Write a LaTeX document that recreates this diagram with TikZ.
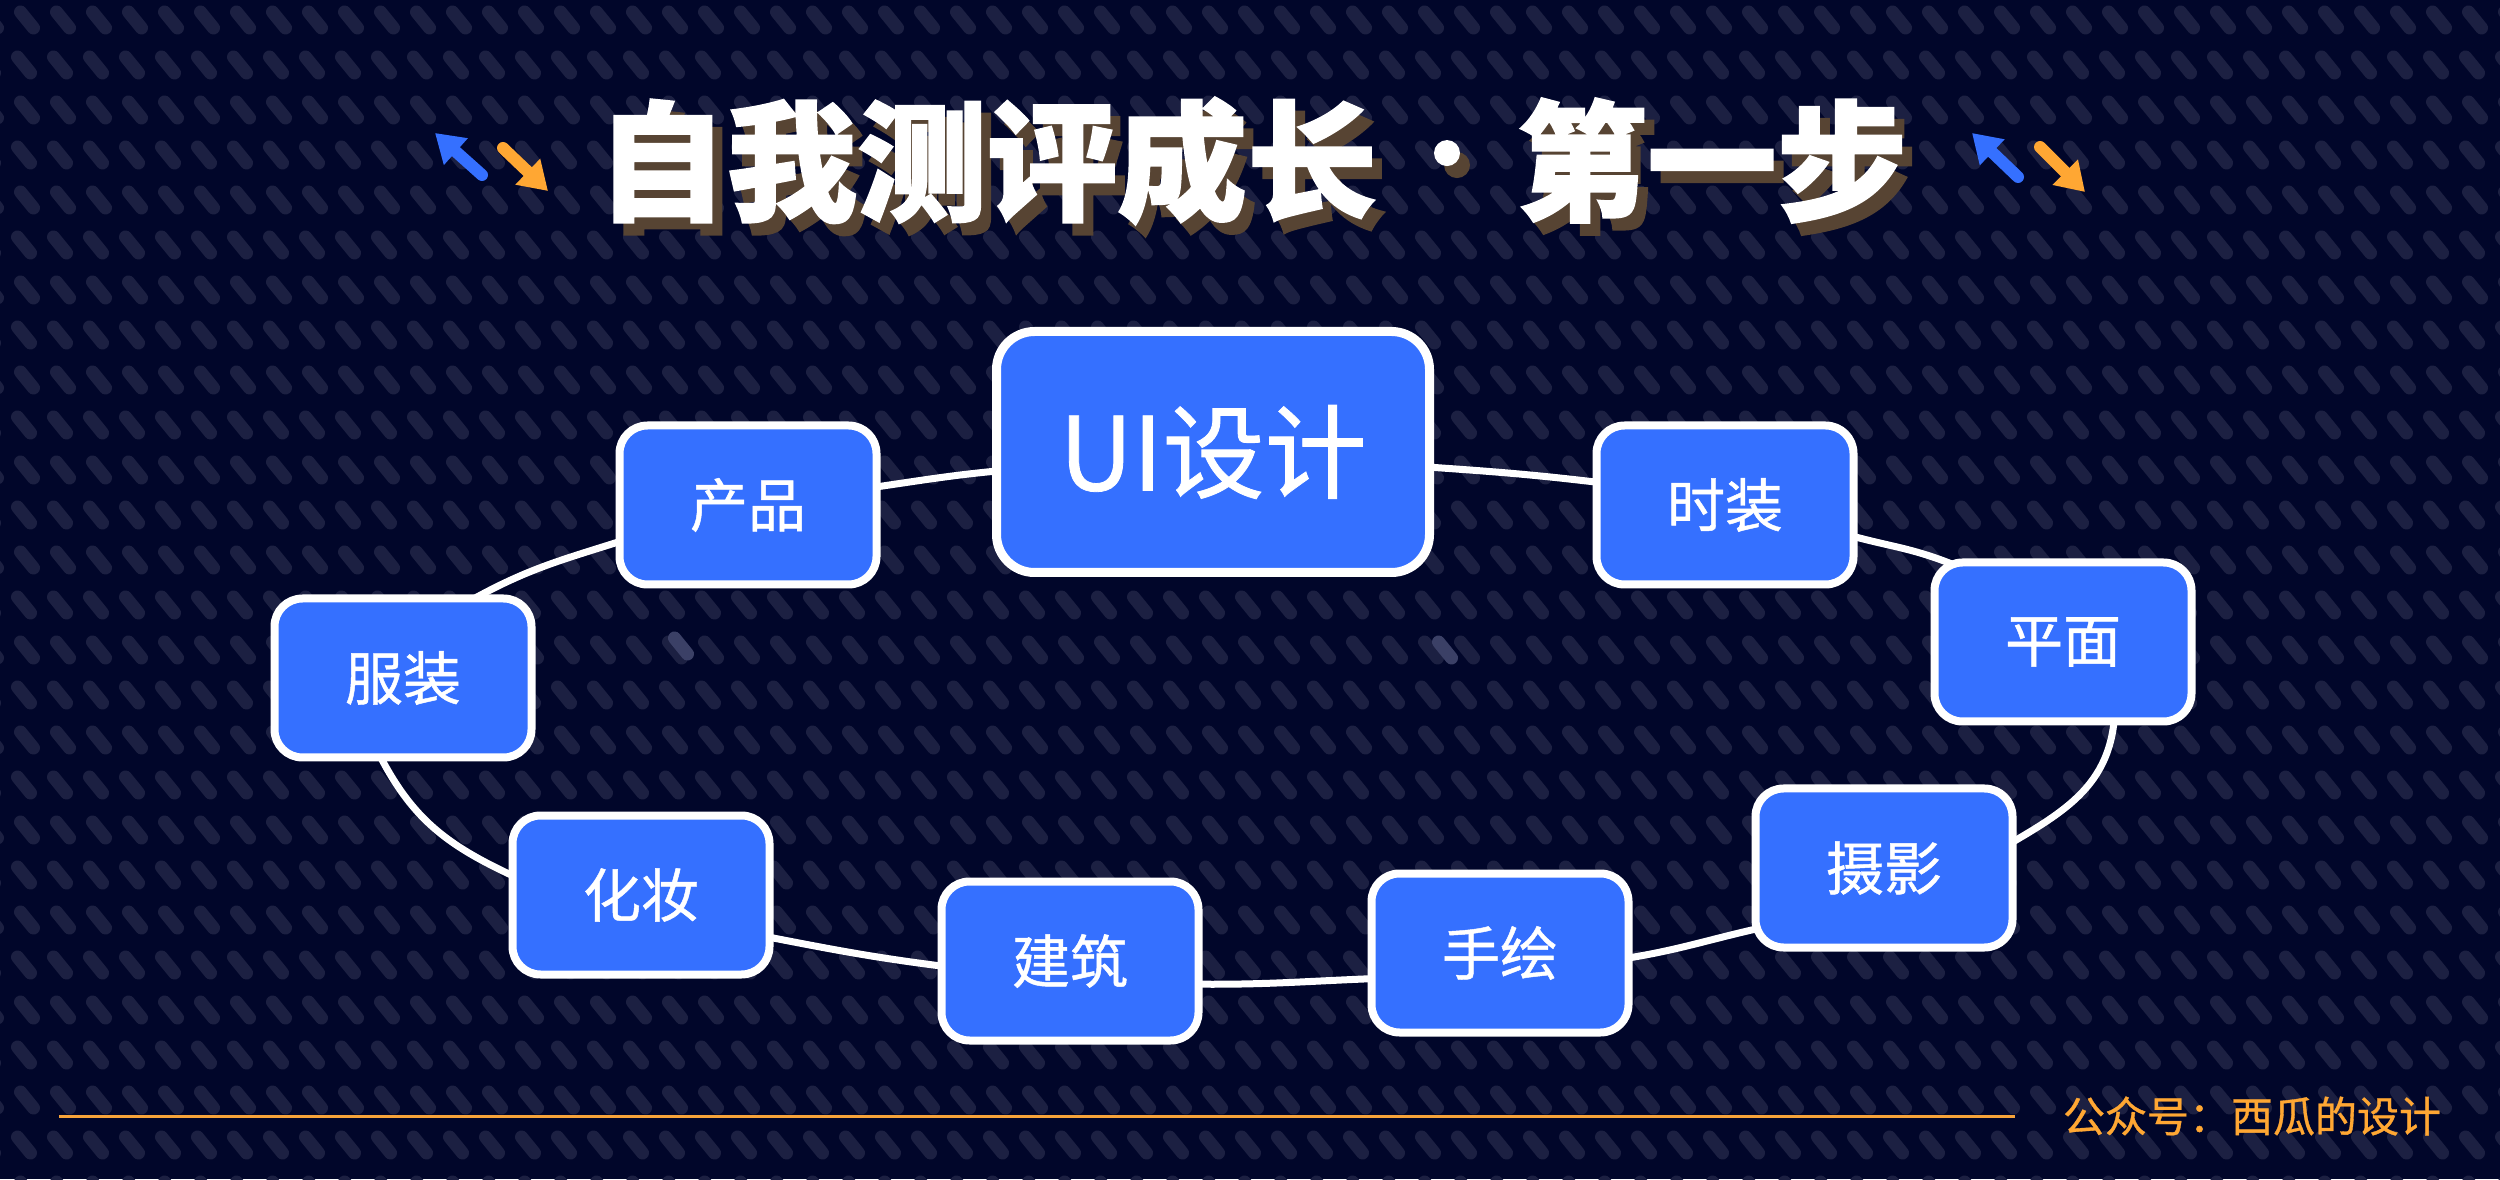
\documentclass[tikz,border=0pt]{standalone}
\usepackage{fontspec}
\usetikzlibrary{arrows.meta}
\newfontfamily\cjk{Noto Sans CJK SC}
\newfontfamily\cjkmed[FakeBold=0.8]{Noto Sans CJK SC}
\newfontfamily\cjktitle[FakeBold=1.5]{Noto Sans CJK SC}
\definecolor{bgcol}{HTML}{01062A}
\definecolor{dashcol}{HTML}{1C2042}
\definecolor{dashlight}{HTML}{3B4066}
\definecolor{nodeblue}{HTML}{3570FF}
\definecolor{arrowblue}{HTML}{3570FF}
\definecolor{arroworange}{HTML}{FFA733}
\definecolor{footorange}{HTML}{FFA733}
\definecolor{lineorange}{HTML}{F6A33A}
\definecolor{shadowcol}{HTML}{574433}
\pgfdeclarelayer{bg}
\pgfdeclarelayer{edges}
\pgfsetlayers{bg,edges,main}
\newcommand\titledot{\makebox[140pt]{\fontsize{88}{88}\selectfont\raisebox{24pt}{·}}}
\tikzset{
  box/.style={draw=white, line width=8pt, fill=nodeblue, rounded corners=28pt,
    minimum width=257pt, minimum height=159pt, inner sep=0pt, text=white,
    font=\cjkmed\fontsize{58}{58}\selectfont},
  bigbox/.style={box, line width=9pt, rounded corners=38pt,
    minimum width=433pt, minimum height=241pt,
    font=\cjkmed\fontsize{102}{102}\selectfont},
  link/.style={draw=white, line width=7pt, shorten <=-25pt, shorten >=-25pt},
  titletext/.style={inner sep=0pt, font=\cjktitle\bfseries\fontsize{130}{130}\selectfont},
  deco/.style={line width=12pt, line cap=round, -{Triangle[length=28pt,width=34pt]}},
}
\begin{document}
\begin{tikzpicture}[x=1pt,y=1pt]
\useasboundingbox (0,0) rectangle (2500,1179);
\begin{pgfonlayer}{bg}
\fill[bgcol] (0,0) rectangle (2500,1179);
\draw[dashcol, line width=13pt, line cap=round]
  \foreach \k in {0,...,26} { \foreach \j in {-1,...,70} {
    ({27+36*\j-3*mod(\k,2)-6.5}, {1179-20-45*\k+8}) -- ++(13,-16) } };
\draw[dashlight, line width=13pt, line cap=round]
  (674.5,541) -- ++(13,-16)
  (1438.5,537) -- ++(13,-16);
\end{pgfonlayer}

% title
\node[titletext, text=shadowcol] (titleshadow) at (1262,1006) {自我测评成长\titledot 第一步};
\node[titletext, text=white] (title) at (1252,1018) {自我测评成长\titledot 第一步};

% decorative arrows
\coordinate (lbt) at (482,1004); \coordinate (lbh) at (435,1046);
\coordinate (lot) at (503,1031); \coordinate (loh) at (548,988);
\coordinate (rbt) at (2018,1002); \coordinate (rbh) at (1972,1046);
\coordinate (rot) at (2040,1032); \coordinate (roh) at (2085,987);
\draw[deco, arrowblue] (lbt) -- (lbh);
\draw[deco, arroworange] (lot) -- (loh);
\draw[deco, arrowblue] (rbt) -- (rbh);
\draw[deco, arroworange] (rot) -- (roh);

% nodes
\node[bigbox] (ui) at (1213,727) {UI设计};
\node[box] (chanpin) at (748,674) {产品};
\node[box] (shizhuang) at (1725,674) {时装};
\node[box] (pingmian) at (2063,537) {平面};
\node[box] (fuzhuang) at (403,501) {服装};
\node[box] (huazhuang) at (641,284) {化妆};
\node[box] (jianzhu) at (1070,218) {建筑};
\node[box] (shouhui) at (1500,226) {手绘};
\node[box] (sheying) at (1884,311) {摄影};

% connectors
\begin{pgfonlayer}{edges}
\draw[link] (ui.-4) to[out=-4, in=173] (shizhuang.170);
\draw[link] (shizhuang.-14) to[out=-17, in=157] (pingmian.146);
\draw[link] (pingmian.-58) to[out=-90, in=30] (sheying.12);
\draw[link] (sheying.205) to[out=192, in=8] (shouhui.-2);
\draw[link] (shouhui.191) to[out=182, in=-1] (jianzhu.-10);
\draw[link] (jianzhu.182) to[out=173, in=-11] (huazhuang.-18);
\draw[link] (huazhuang.171) to[out=156, in=-65] (fuzhuang.-104);
\draw[link] (fuzhuang.47) to[out=30, in=198] (chanpin.196);
\draw[link] (chanpin.8) to[out=8, in=185] (ui.185);
\end{pgfonlayer}

% footer
\node[text=footorange, inner sep=0pt, font=\cjkmed\fontsize{42}{42}\selectfont] (footer) at (2252,63) {公众号：西瓜的设计};
\coordinate (lineL) at (59,63);
\draw[lineorange, line width=3pt] (lineL) -- ([xshift=-48pt]footer.west);
\end{tikzpicture}
\end{document}
